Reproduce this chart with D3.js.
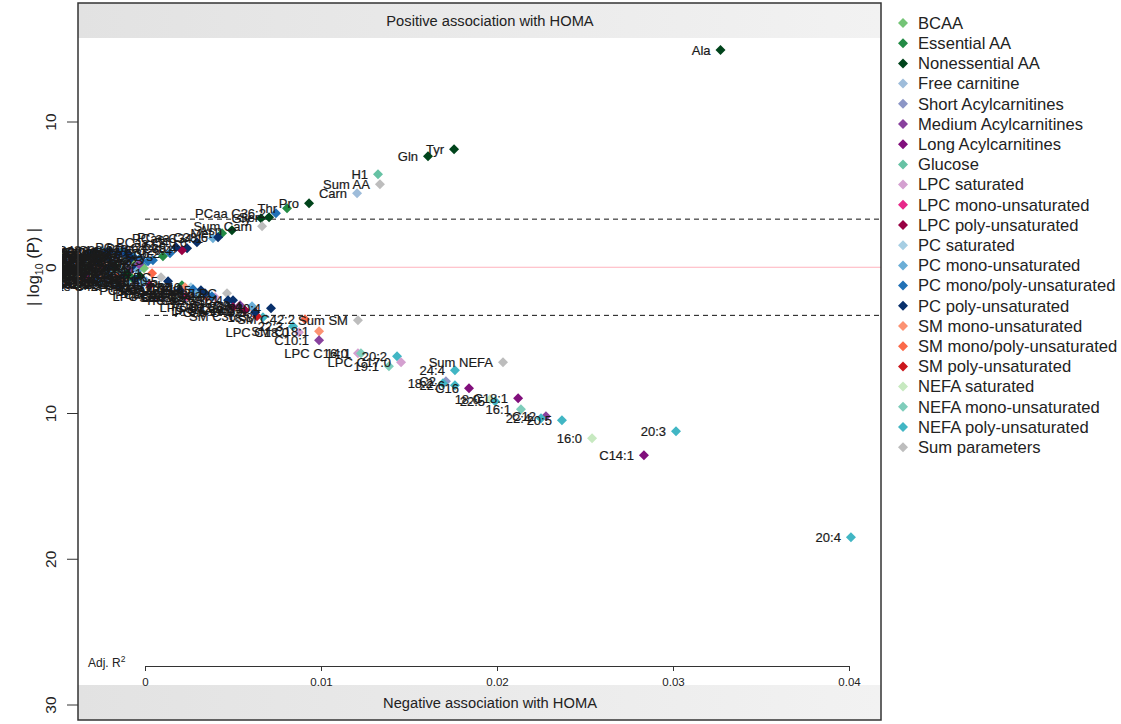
<!DOCTYPE html>
<html>
<head>
<meta charset="utf-8">
<script src="https://cdn.jsdelivr.net/npm/d3@7"></script>
<style>
body { margin: 0; background: #fff; }
text { font-family: "Liberation Sans", Arial, sans-serif; }
</style>
</head>
<body>
<div id="chart"></div>
<script>
// groups (legend order) and their colours
const groupNames = ["BCAA", "Essential AA", "Nonessential AA", "Free carnitine", "Short Acylcarnitines",
  "Medium Acylcarnitines", "Long Acylcarnitines", "Glucose", "LPC saturated", "LPC mono-unsaturated",
  "LPC poly-unsaturated", "PC saturated", "PC mono-unsaturated", "PC mono/poly-unsaturated",
  "PC poly-unsaturated", "SM mono-unsaturated", "SM mono/poly-unsaturated", "SM poly-unsaturated",
  "NEFA saturated", "NEFA mono-unsaturated", "NEFA poly-unsaturated", "Sum parameters"];
const groupColors = ["#74c476", "#238b45", "#00441b", "#9ebcda", "#8c96c6", "#88419d", "#810f7c",
  "#66c2a4", "#d4a0d0", "#e7298a", "#980043", "#a6cee3", "#6baed6", "#2171b5", "#08306b",
  "#fc9272", "#fb6a4a", "#cb181d", "#c7e9c0", "#7fcdbb", "#41b6c4", "#bdbdbd"];

// metabolites: name, group index, adjusted R2, signed |log10(P)| (+ positive / - negative association)
const metabolites = [
  "Ala", "Tyr", "Gln", "H1", "Sum AA", "Carn", "Pro", "Thr", "PCaa C36:2", "Ser", "Gly", "Sum Carn",
  "Asn", "Met", "PCae C34:1", "PCaa C38:6", "PCaa C40:6", "PCaa C38:4", "LPC C20:4", "PCae C36:2",
  "Lys", "PCae C38:3", "PCaa C34:2", "PCae C36:3",
  "SM C24:1", "Sum PC", "PCaa C40:5", "Phe", "SM C16:1", "PCaa C32:0", "PCae C34:2", "PCaa C38:5",
  "Sum LPC", "SM C26:1", "PCaa C36:4", "LPC C22:6", "SM C20:2", "PCaa C40:4", "PCae C36:4", "18:3",
  "SM C42:2", "SM C36:3", "22:3", "LPC C18:0", "SM C18:1", "C10:1", "Sum SM", "LPC C16:0", "14:1",
  "20:2", "LPC C17:0", "19:1", "Sum NEFA", "24:4", "C2", "22:6", "C16", "18:2", "18:0", "22:5",
  "C18:1", "16:1", "C12", "22:4", "20:5", "16:0", "20:3", "C14:1", "20:4",
  "PCae C40:2", "PCae C42:1", "PCaa C36:6", "PCae C40:6", "PCae C36:5", "PCae C38:4", "PCae C34:3",
  "Trp", "PCaa C42:4", "C5", "PCae C32:1", "Leu", "PCaa C30:2",
  "PCaa C24:0", "PCae C30:0", "LPC C18:1", "PCaa C32:3", "PCae C36:0", "C3", "PCaa C40:3",
  "PCae C38:0", "SM (OH) C14:1", "PCaa C42:0", "Ile", "PCae C40:1", "C6", "PCaa C32:1",
  "PCae C42:0", "Val",
  "PCaa C38:0", "LPC C14:0", "PCae C42:2", "SM (OH) C22:2", "PCaa C34:4", "His", "Glu",
  "PCae C30:2", "LPC C26:0", "PCaa C30:0", "SM (OH) C16:1", "PCae C34:0", "C4", "PCae C38:1",
  "LPC C20:3", "PCaa C36:5", "PCae C36:1", "LPC C16:1", "PCaa C42:5", "LPC C24:0", "PCae C40:4",
  "LPC C18:2", "PCae C40:5", "C9", "PCaa C34:3",
  "PCae C30:1", "PCaa C26:0", "PCae C38:5", "LPC C28:0", "PCae C42:3", "PCae C32:2", "SM (OH) C24:1",
  "PCae C40:3", "PCaa C28:1", "Arg", "PCae C42:4", "PCae C38:2", "Cit", "PCaa C42:6", "PCae C42:5",
  "C8", "PCaa C42:1", "LPC C24:1", "PCae C44:3", "PCaa C36:0", "PCaa C38:3", "PCae C44:5"
];
const groupIdx = [
  2, 2, 2, 7, 21, 3, 2, 1, 13, 2, 2, 21,
  2, 1, 12, 14, 14, 14, 10, 13,
  1, 13, 13, 13,
  16, 21, 14, 1, 15, 11, 13, 14,
  21, 16, 14, 10, 16, 14, 12, 20,
  16, 17, 20, 8, 15, 5, 21, 8, 19,
  20, 8, 19, 21, 20, 4, 20, 6, 20, 18, 20,
  6, 19, 5, 20, 20, 18, 20, 6, 20,
  14, 12, 14, 14, 14, 13, 13,
  1, 14, 4, 12, 0, 13,
  11, 11, 9, 13, 11, 4, 14,
  11, 15, 11, 0, 12, 5, 12,
  11, 0,
  11, 8, 13, 16, 14, 1, 2,
  13, 8, 11, 15, 11, 4, 12,
  10, 14, 12, 9, 14, 8, 14,
  10, 14, 5, 13,
  12, 11, 14, 8, 14, 13, 15,
  14, 12, 2, 14, 13, 2, 14, 14,
  5, 12, 9, 14, 11, 14, 14
];
const adjR2 = [
  0.0327, 0.01756, 0.01608, 0.01324, 0.01335, 0.01205, 0.00932, 0.00807, 0.00744, 0.00705, 0.00659, 0.00665,
  0.00494, 0.00438, 0.00386, 0.00415, 0.00295, 0.00239, 0.0021, 0.00142,
  0.00102, 0.00045, 0.00017, -0.00017,
  0.0004, 0.00091, 0.00131, 0.0021, 0.00227, 0.00261, 0.00273, 0.00318,
  0.00466, 0.00352, 0.005, 0.005, 0.00614, 0.00716, 0.00608, 0.0067,
  0.00909, 0.00636, 0.00841, 0.00875, 0.00989, 0.00989, 0.0121, 0.0121, 0.01227,
  0.01432, 0.01455, 0.01386, 0.02034, 0.01761, 0.0171, 0.01761, 0.01841, 0.01693, 0.0196, 0.01989,
  0.0212, 0.02136, 0.02278, 0.0225, 0.02369, 0.0254, 0.03017, 0.02835, 0.04011,
  -0.00284, -0.00244, -0.00199, -0.00153, -0.00108, -0.00063, -0.00028,
  -0.00256, -0.0021, -0.00165, -0.00119, -0.00074, -0.00301,
  -0.00324, -0.00278, -0.00233, -0.00188, -0.00142, -0.00097, -0.00051,
  -0.00313, -0.00267, -0.00222, -0.00176, -0.00131, -0.00085, -0.0004,
  -0.00335, -0.00006,
  -0.00301, -0.00256, -0.0021, -0.00165, -0.00119, -0.00074, -0.00028,
  -0.00278, -0.00233, -0.00188, -0.00142, -0.00097, -0.00051, 0.00006,
  0.00028, 0.00199, 0.0029, 0.00233, 0.00341, 0.00398, 0.00472,
  0.00568, 0.00625, 0.0054, 0.0038,
  -0.00347, -0.00335, -0.00318, -0.00295, -0.00273, -0.00261, -0.00239,
  -0.00216, -0.00193, -0.0017, -0.00148, -0.00125, -0.00102, -0.0008, -0.00057,
  -0.00034, -0.00017, -0.00324, -0.0021, -0.0029, -0.00097, 0.00176
];
const log10P = [
  14.9, 8.1, 7.62, 6.38, 5.7, 5.08, 4.39, 4.05, 3.71, 3.43, 3.36, 2.81,
  2.54, 2.33, 1.99, 2.06, 1.72, 1.3, 1.17, 0.96,
  0.75, 0.48, 0.41, 0.14,
  -0.41, -0.69, -0.96, -1.24, -1.37, -1.37, -1.51, -1.58,
  -1.78, -2.06, -2.26, -2.75, -2.81, -2.81, -2.68, -3.43,
  -3.57, -3.36, -4.05, -4.46, -4.39, -5.01, -3.64, -5.9, -5.9,
  -6.11, -6.52, -6.79, -6.52, -7.07, -7.82, -8.1, -8.3, -7.96, -9.06, -9.2,
  -8.99, -9.75, -10.23, -10.36, -10.5, -11.74, -11.26, -12.9, -18.53,
  1.03, 1.17, 1.1, 0.96, 0.82, 0.69, 0.62,
  0.75, 0.62, 0.55, 0.41, 0.34, 0.55,
  0.27, 0.14, 0.07, 0.21, -0.07, 0.07, -0.07,
  -0.14, -0.21, -0.27, -0.21, -0.34, -0.27, -0.21,
  0, -0.07,
  -0.48, -0.55, -0.62, -0.69, -0.62, -0.75, -0.62,
  -0.89, -1.03, -1.1, -0.96, -1.17, -1.1, -0.96,
  -1.24, -1.58, -1.85, -1.99, -1.78, -2.06, -2.26,
  -2.95, -3.09, -2.61, -1.99,
  0.62, -0.55, 0.96, 0.07, 0.41, -1.1, 0.34,
  1.03, -0.41, 0.07, -1.3, 1.17, -0.48, 0.62, -0.82,
  0.21, -1.17, -0.82, -0.07, -0.27, 0.96, 1.37
];

const yTicks = [10, 0, -10, -20, -30];
const xTicks = [0, 0.01, 0.02, 0.03, 0.04];
const threshold = 3.3;

const width = 1121, height = 724;
const box = {left: 78, right: 881, top: 3, bottom: 720};
const bandH = 35;

const svg = d3.select("#chart").append("svg")
  .attr("width", width).attr("height", height);

const x = d3.scaleLinear().domain([0, 0.04]).range([145, 849]);
const y = d3.scaleLinear().domain([-30, 10]).range([704.5, 121.5]);

const defs = svg.append("defs");
const grad = defs.append("linearGradient").attr("id", "band");
grad.append("stop").attr("offset", "0%").attr("stop-color", "#e2e2e2");
grad.append("stop").attr("offset", "100%").attr("stop-color", "#f2f2f2");
// labels may spill a little to the left of the frame, as in the original
defs.append("clipPath").attr("id", "plotclip").append("rect")
  .attr("x", 62).attr("y", box.top)
  .attr("width", box.right - 62).attr("height", box.bottom - box.top);

// grey bands top and bottom
svg.append("rect").attr("x", box.left).attr("y", box.top)
  .attr("width", box.right - box.left).attr("height", bandH).attr("fill", "url(#band)");
svg.append("rect").attr("x", box.left).attr("y", box.bottom - bandH)
  .attr("width", box.right - box.left).attr("height", bandH).attr("fill", "url(#band)");
svg.append("text").attr("x", 490).attr("y", box.top + bandH / 2).attr("dy", "0.35em")
  .attr("text-anchor", "middle").attr("font-size", 14.7).attr("fill", "#222")
  .text("Positive association with HOMA");
svg.append("text").attr("x", 490).attr("y", box.bottom - bandH / 2).attr("dy", "0.35em")
  .attr("text-anchor", "middle").attr("font-size", 14.7).attr("fill", "#222")
  .text("Negative association with HOMA");

// zero line and significance thresholds
svg.append("line").attr("x1", x(0)).attr("x2", box.right)
  .attr("y1", y(0)).attr("y2", y(0)).attr("stroke", "#ffb3bd").attr("stroke-width", 1);
[threshold, -threshold].forEach(t => {
  svg.append("line").attr("x1", x(0)).attr("x2", box.right)
    .attr("y1", y(t)).attr("y2", y(t))
    .attr("stroke", "#111").attr("stroke-width", 1).attr("stroke-dasharray", "5,4");
});

// x axis (inside the plot)
const xAxis = svg.append("g").attr("transform", "translate(0,666)")
  .call(d3.axisBottom(x).tickValues(xTicks).tickSize(5).tickSizeOuter(0)
    .tickFormat(d => String(+d.toFixed(2))));
xAxis.select(".domain").attr("stroke", "#333");
xAxis.selectAll(".tick line").attr("stroke", "#333");
xAxis.selectAll("text").attr("font-size", 11.5).attr("fill", "#222").attr("y", 12)
  .style("font-family", "'Liberation Sans', Arial, sans-serif");
const adj = svg.append("text").attr("x", 88).attr("y", 667).attr("font-size", 12).attr("fill", "#222");
adj.append("tspan").text("Adj. R");
adj.append("tspan").attr("dy", -5).attr("font-size", 8.5).text("2");

// y axis
const yAxis = svg.append("g").attr("transform", `translate(${box.left},0)`)
  .call(d3.axisLeft(y).tickValues(yTicks).tickSize(11).tickFormat(""));
yAxis.select(".domain").remove();
yAxis.selectAll(".tick line").attr("stroke", "#333");
yAxis.selectAll(".tick").append("text")
  .attr("transform", "translate(-22,0) rotate(-90)")
  .attr("text-anchor", "middle").attr("font-size", 15.5).attr("fill", "#222")
  .text(d => Math.abs(d));
const yt = svg.append("text").attr("transform", "translate(39,267) rotate(-90)")
  .attr("text-anchor", "middle").attr("font-size", 16.5).attr("fill", "#222");
yt.append("tspan").text("| log");
yt.append("tspan").attr("font-size", 10.5).attr("dy", 4).text("10");
yt.append("tspan").attr("dy", -4).text(" (P) |");

// points and labels
const diamond = "M0,-5L5,0L0,5L-5,0Z";
const data = metabolites.map((m, i) => ({name: m, g: groupIdx[i], r2: adjR2[i], p: log10P[i]}));
const plot = svg.append("g").attr("clip-path", "url(#plotclip)");
plot.selectAll("path.pt").data(data).join("path").attr("class", "pt")
  .attr("d", diamond)
  .attr("transform", d => `translate(${x(d.r2)},${y(d.p)})`)
  .attr("fill", d => groupColors[d.g]);
plot.selectAll("text.lab").data(data).join("text").attr("class", "lab")
  .attr("x", d => x(d.r2) - 10).attr("y", d => y(d.p)).attr("dy", "0.35em")
  .attr("text-anchor", "end").attr("font-size", 13).attr("fill", "#1a1a1a")
  .attr("stroke", "#1a1a1a").attr("stroke-width", 0.2)
  .text(d => d.name);

// frame
svg.append("rect").attr("x", box.left).attr("y", box.top)
  .attr("width", box.right - box.left).attr("height", box.bottom - box.top)
  .attr("fill", "none").attr("stroke", "#333").attr("stroke-width", 1.5);

// legend
const legend = svg.append("g").attr("transform", "translate(903,23)");
const items = legend.selectAll("g").data(groupNames).join("g")
  .attr("transform", (d, i) => `translate(0,${i * 20.2})`);
items.append("path").attr("d", diamond).attr("fill", (d, i) => groupColors[i]);
items.append("text").attr("x", 15).attr("dy", "0.35em").attr("font-size", 16.6)
  .attr("fill", "#222").text(d => d);
</script>
</body>
</html>
